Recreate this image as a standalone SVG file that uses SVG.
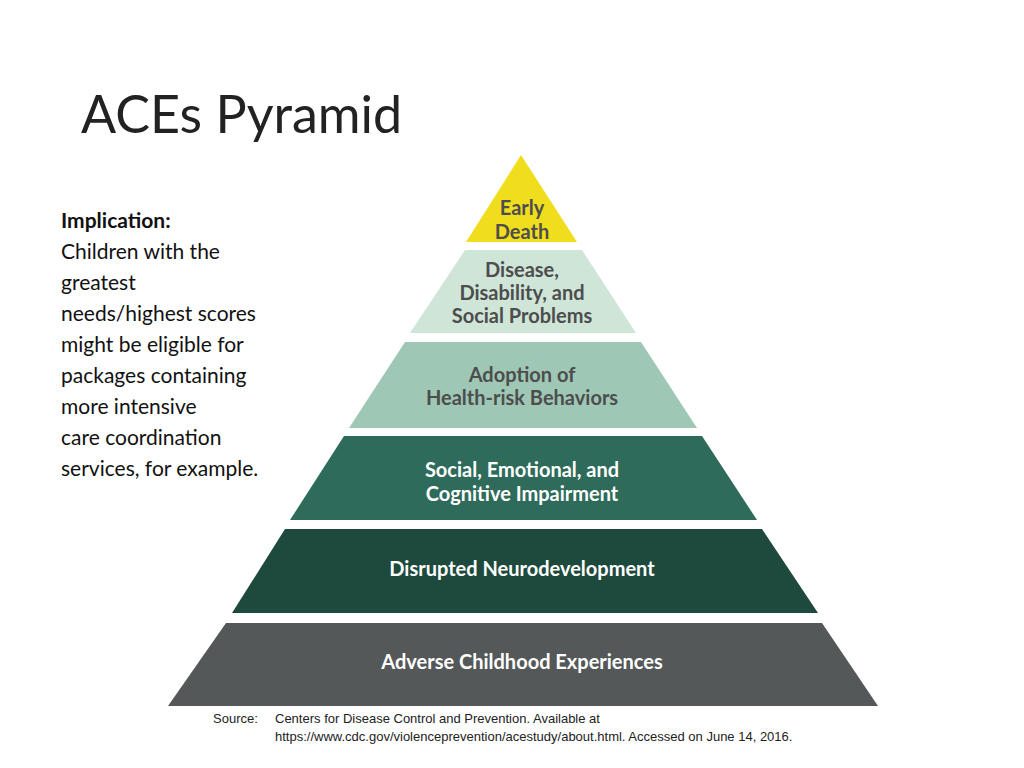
<svg xmlns="http://www.w3.org/2000/svg" width="1024" height="768" viewBox="0 0 1024 768">
<style>
.t{font-family:"Liberation Sans",Arial,sans-serif}
.p{font-family:Lato,"Open Sans",sans-serif;font-weight:bold;font-size:20px;text-anchor:middle}
.d{fill:#4d4d4d}.w{fill:#ffffff}
.b{font-family:Lato,"Open Sans",sans-serif;font-size:21px;fill:#111}
.s{font-family:"Liberation Sans",Arial,sans-serif;font-size:13px;fill:#222}
</style>
<rect width="1024" height="768" fill="#fff"/>
<text x="81" y="133" font-family="Lato,'Open Sans',sans-serif" font-size="52" fill="#222">ACEs Pyramid</text>
<g id="implication" class="b">
<text x="61" y="228" font-weight="bold">Implication:</text>
<text x="61" y="259">Children with the</text>
<text x="61" y="290">greatest</text>
<text x="61" y="321">needs/highest scores</text>
<text x="61" y="352">might be eligible for</text>
<text x="61" y="383">packages containing</text>
<text x="61" y="414">more intensive</text>
<text x="61" y="445">care coordination</text>
<text x="61" y="476">services, for example.</text>
</g>
<g id="early-death">
<polygon points="521,155 577,242 466,242" fill="#f0de1e"/>
<text class="p d" x="522" y="215" fill="#4d4d4d">Early</text>
<text class="p d" x="522" y="239">Death</text>
</g>
<g id="disease">
<polygon points="465,250 582,250 636,333 410,333" fill="#cfe5d8"/>
<text class="p d" x="522" y="277">Disease,</text>
<text class="p d" x="522" y="300">Disability, and</text>
<text class="p d" x="522" y="323">Social Problems</text>
</g>
<g id="adoption">
<polygon points="405,342 641,342 697,428 349,428" fill="#9ec8b5"/>
<text class="p d" x="522" y="382">Adoption of</text>
<text class="p d" x="522" y="405">Health-risk Behaviors</text>
</g>
<g id="social">
<polygon points="344,436 702,436 757,520 290,520" fill="#2f6b5b"/>
<text class="p w" x="522" y="477">Social, Emotional, and</text>
<text class="p w" x="522" y="501">Cognitive Impairment</text>
</g>
<g id="neuro">
<polygon points="285,529 762,529 818,613 232,613" fill="#1e4a3d"/>
<text class="p w" x="522" y="576">Disrupted Neurodevelopment</text>
</g>
<g id="aces">
<polygon points="226,623 822,623 878,706 168,706" fill="#545858"/>
<text class="p w" x="522" y="669">Adverse Childhood Experiences</text>
</g>
<g id="connectors"/>
<text class="s" x="213" y="723">Source:</text>
<text class="s" x="275" y="723">Centers for Disease Control and Prevention. Available at</text>
<text class="s" x="275" y="741">https://www.cdc.gov/violenceprevention/acestudy/about.html. Accessed on June 14, 2016.</text>
</svg>
